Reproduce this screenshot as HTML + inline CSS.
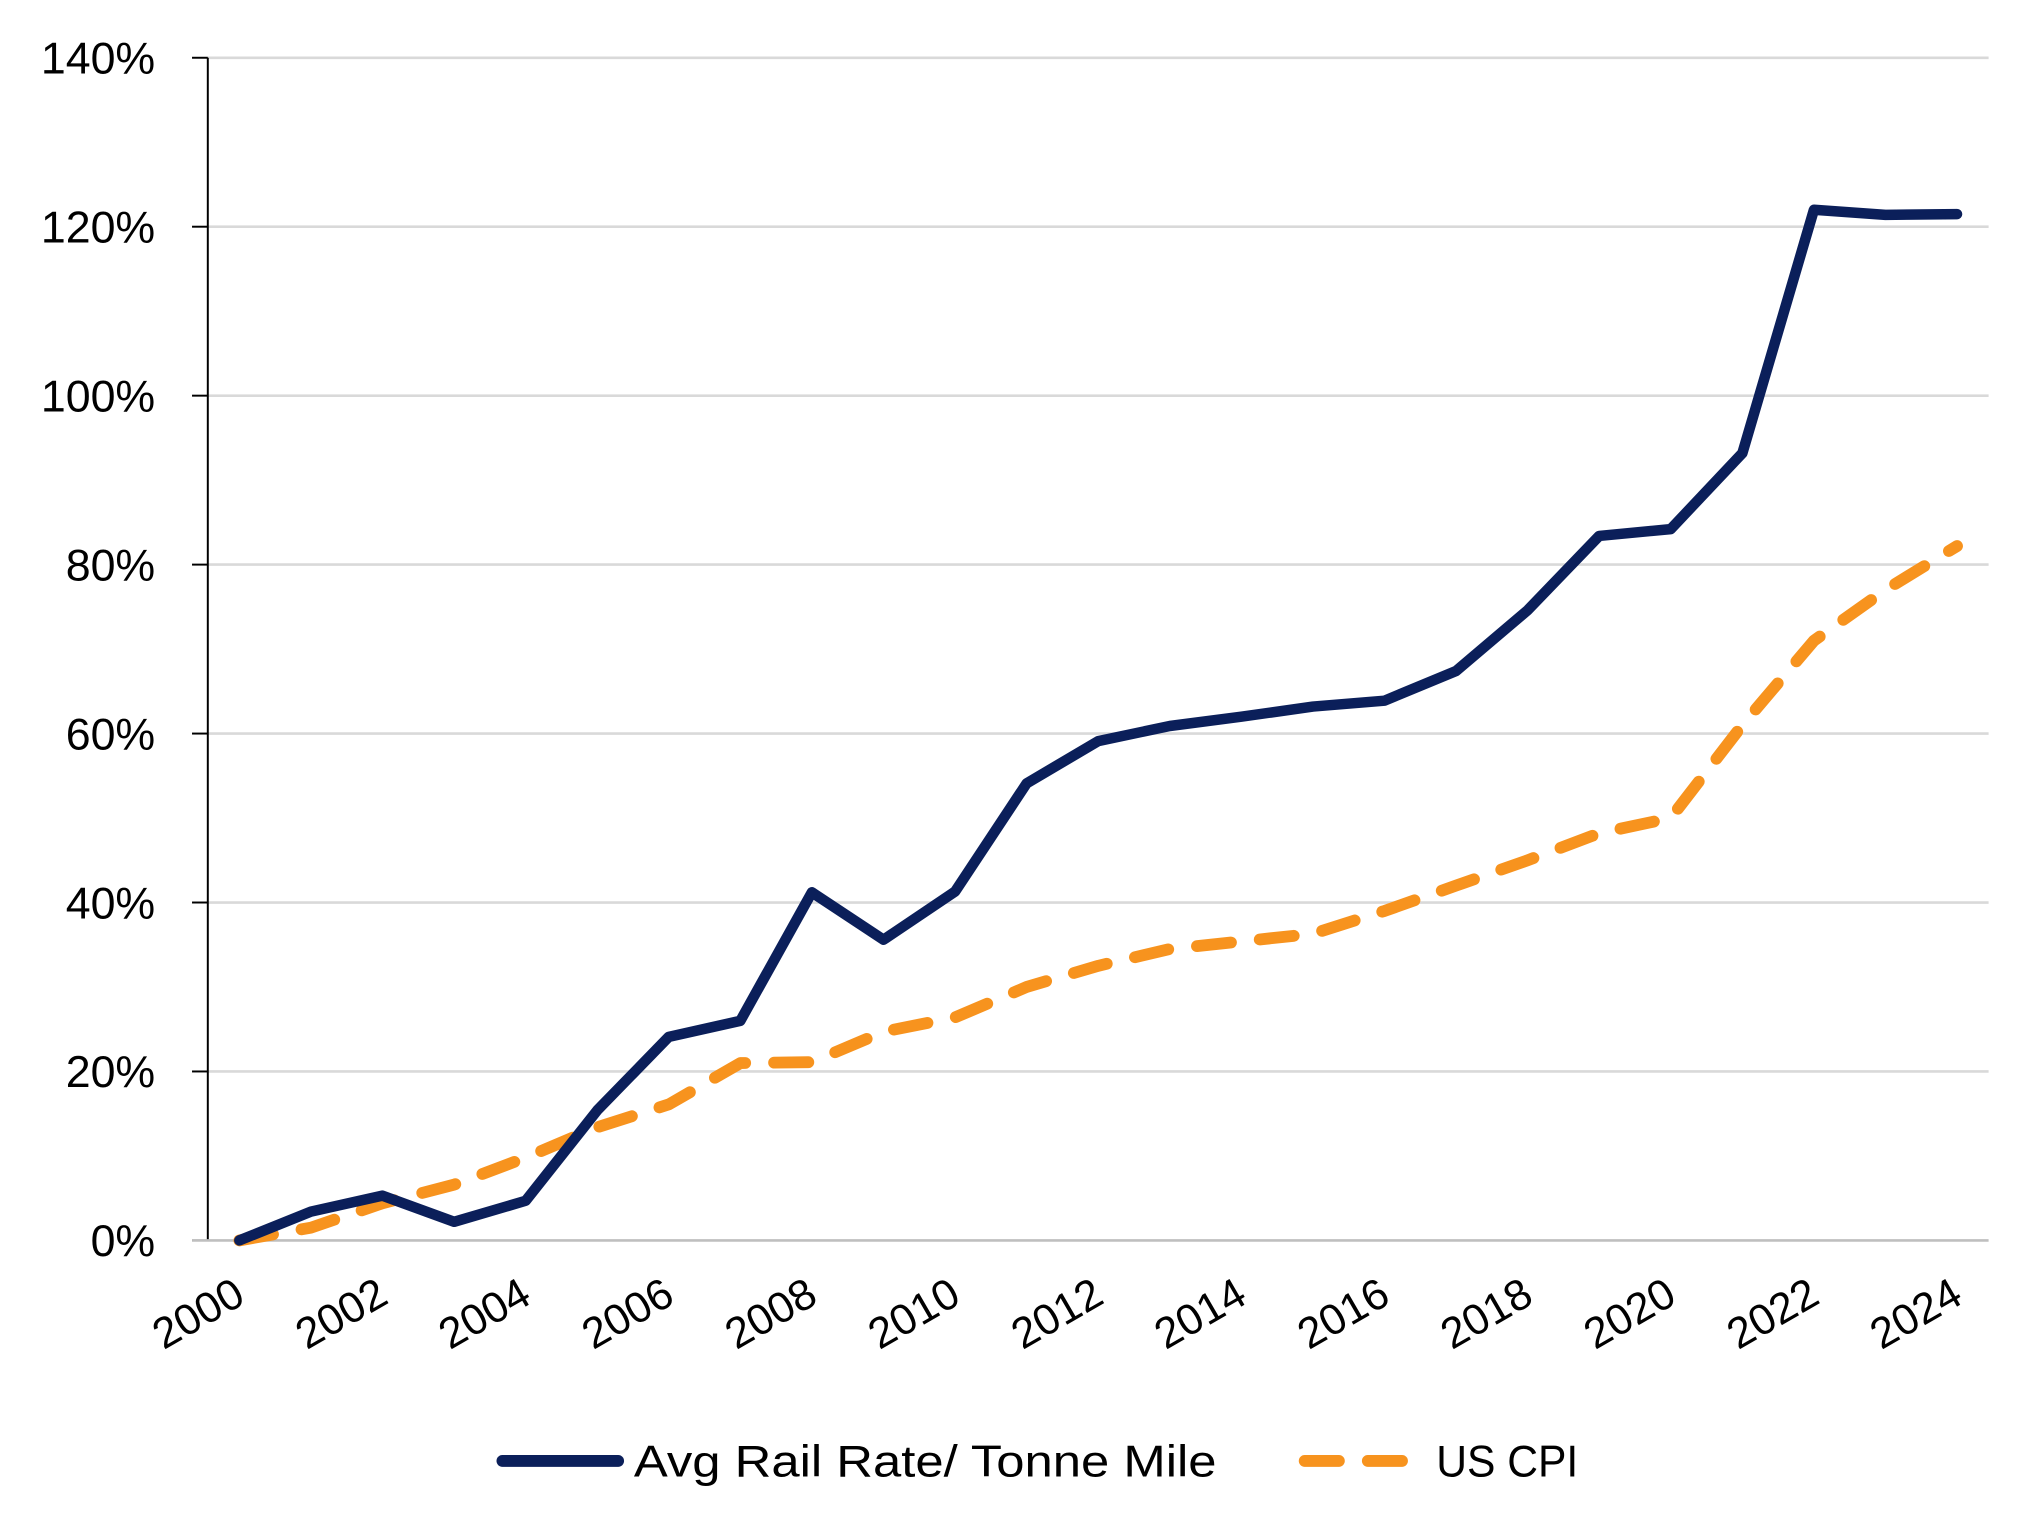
<!DOCTYPE html>
<html><head><meta charset="utf-8"><style>html,body{margin:0;padding:0;background:#fff}svg{display:block}</style></head>
<body>
<svg width="2032" height="1520" viewBox="0 0 1545 1158" preserveAspectRatio="none" xmlns="http://www.w3.org/2000/svg" font-family="'Liberation Sans', sans-serif">
<g id="grid"></g>
<g id="yaxis"></g>
<g id="xaxis"></g>
<g id="series"></g>
<g>
  <line x1="382" y1="1113" x2="470" y2="1113" stroke="#0b1f5a" stroke-width="9" stroke-linecap="round"/>
  <text x="482" y="1125" font-size="34" textLength="443" lengthAdjust="spacingAndGlyphs" fill="#000">Avg Rail Rate/ Tonne Mile</text>
  <line x1="992" y1="1113" x2="1080" y2="1113" stroke="#f7931e" stroke-width="9" stroke-linecap="round" stroke-dasharray="26 22"/>
  <text x="1092" y="1125" font-size="34" textLength="108" lengthAdjust="spacingAndGlyphs" fill="#000">US CPI</text>
</g>
</svg>
<script>
const years = [2000,2001,2002,2003,2004,2005,2006,2007,2008,2009,2010,2011,2012,2013,2014,2015,2016,2017,2018,2019,2020,2021,2022,2023,2024];
const railValues = [0,3.4,5.3,2.2,4.7,15.4,24.1,26,41.2,35.6,41.3,54.1,59.1,60.9,62,63.2,63.9,67.4,74.6,83.4,84.2,93.2,122,121.4,121.5];
const cpiValues = [0,1.5,4.4,6.6,9.8,13.4,16.1,21,21.1,24.7,26.4,30,32.5,34.5,35.4,36.3,39,42,45,48.2,50,61,71,77,82.2];
const yTicks = [0,20,40,60,80,100,120,140];
const xTickLabels = ["2000","2002","2004","2006","2008","2010","2012","2014","2016","2018","2020","2022","2024"];
const NS="http://www.w3.org/2000/svg";
const L=158,R=1512,T=44,B=945;
const xs=y=>182+(y-2000)*(1488-182)/24;
const ys=v=>B-v*(B-T)/140;
function mk(tag,attrs,parent){const e=document.createElementNS(NS,tag);for(const k in attrs)e.setAttribute(k,attrs[k]);parent.appendChild(e);return e;}
const grid=document.getElementById('grid'),yax=document.getElementById('yaxis'),xax=document.getElementById('xaxis'),ser=document.getElementById('series');
yTicks.forEach(t=>{
  if(t>0){const g=mk('line',{x1:L,x2:R,y1:ys(t),y2:ys(t),stroke:'#d9d9d9','stroke-width':2},grid);
  
  }
  const tk=mk('line',{x1:L-12,x2:L,y1:ys(t),y2:ys(t),stroke:'#000','stroke-width':1.5},yax);
  
  
  const tx=mk('text',{x:L-40,y:ys(t)+12,'text-anchor':'end','font-size':34,fill:'#000'},yax);
  tx.textContent=t+'%';
  
  
});
const ax=mk('line',{x1:L,x2:L,y1:T,y2:B,stroke:'#000','stroke-width':1.5},yax);


const bx=mk('line',{x1:L-12,x2:R,y1:B,y2:B,stroke:'#bfbfbf','stroke-width':2},xax);


xTickLabels.forEach(lbl=>{
  const x=xs(+lbl);
  const tx=mk('text',{x:x+6,y:992,'text-anchor':'end','font-size':33,fill:'#000',transform:`rotate(-30 ${x+6} 992)`},xax);
  tx.textContent=lbl;
  
  
});
function path(vals){return vals.map((v,i)=>(i?'L':'M')+xs(years[i]).toFixed(1)+' '+ys(v).toFixed(1)).join(' ');}
const cpi=mk('path',{d:path(cpiValues),fill:'none',stroke:'#f7931e','stroke-width':9,'stroke-linecap':'round','stroke-linejoin':'round','stroke-dasharray':'26 22'},ser);


const rail=mk('path',{d:path(railValues),fill:'none',stroke:'#0b1f5a','stroke-width':8,'stroke-linecap':'round','stroke-linejoin':'round'},ser);


</script>
</body></html>
